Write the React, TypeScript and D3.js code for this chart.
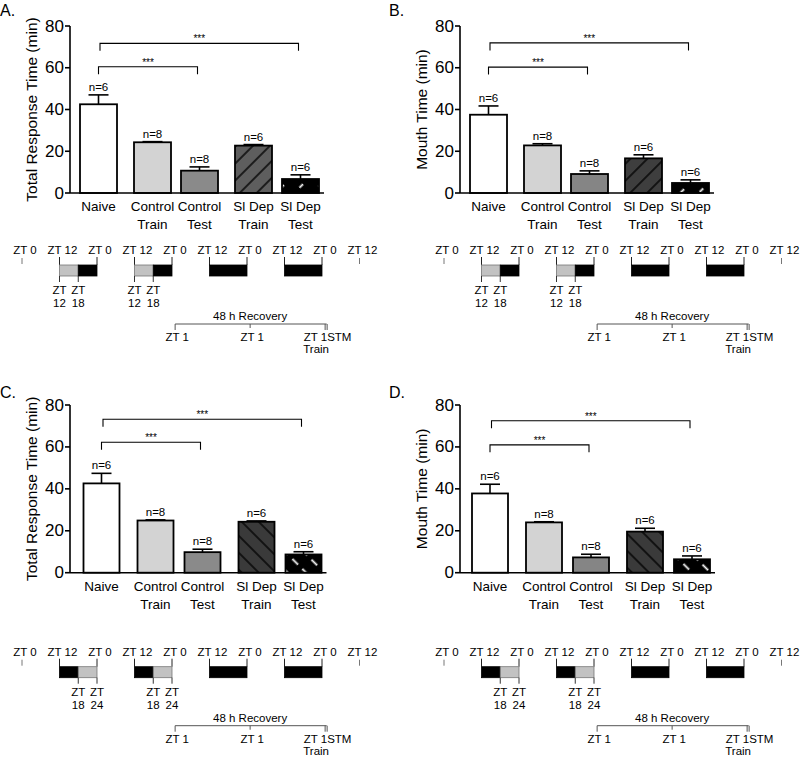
import React from "react";
import * as d3 from "d3";

// ---------- data ----------
const categories = ["Naive", "Control|Train", "Control|Test", "Sl Dep|Train", "Sl Dep|Test"];
const nLabels = ["n=6", "n=8", "n=8", "n=6", "n=6"];
const groupOf = [0, 1, 1, 2, 2];
const yTicks = [0, 20, 40, 60, 80];

const meanA = [42.5, 24.3, 10.7, 22.7, 6.7];
const semA = [4.5, 0.3, 1.8, 0.5, 2.0];
const meanB = [37.5, 22.8, 9.1, 16.6, 4.8];
const semB = [4.2, 0.8, 1.5, 1.7, 1.5];
const meanC = [42.6, 24.9, 9.8, 24.3, 8.7];
const semC = [4.8, 0.3, 1.4, 0.4, 1.3];
const meanD = [37.8, 24.0, 7.3, 19.6, 6.4];
const semD = [4.4, 0.3, 1.5, 1.6, 1.6];

const sigPairs = [[0, 2], [0, 4]];
const sigLabels = ["***", "***"];
const sigA = [60.5, 71.7];
const sigB = [60.3, 71.9];
const sigC = [62.2, 73.2];
const sigD = [61.0, 72.5];

// timeline (hours)
const ztHours = [0, 12, 24, 36, 48, 60, 72, 84, 96, 108];
const ztLabels = ["ZT 0", "ZT 12", "ZT 0", "ZT 12", "ZT 0", "ZT 12", "ZT 0", "ZT 12", "ZT 0", "ZT 12"];
const segStart = [12, 18, 36, 42, 60, 84];
const segEnd = [18, 24, 42, 48, 72, 96];
const segShadeTop = ["light", "dark", "light", "dark", "dark", "dark"];
const segShadeBottom = ["dark", "light", "dark", "light", "dark", "dark"];
const markerHoursTop = [12, 18, 36, 42];
const markerLabelsTop = ["12", "18", "12", "18"];
const markerHoursBottom = [18, 24, 42, 48];
const markerLabelsBottom = ["18", "24", "18", "24"];
const recoveryHours = [49, 73, 97];
const recoveryLabels = ["ZT 1", "ZT 1", "ZT 1"];

const FONT = "'Liberation Sans', Arial, Helvetica, sans-serif";

type PanelCfg = {
  id: string;
  letter: string;
  letterX: number;
  letterY: number;
  title: string;
  mean: number[];
  sem: number[];
  sig: number[];
  axisX: number;
  y0: number;
  y80: number;
  firstCenter: number;
  barW: number;
  trainFill: string;
  testFill: string;
  hatchRot: number;
  dash: string;
  tlX0: number;
  tlRow: number;
  shades: string[];
  markerHours: number[];
  markerLabels: string[];
};

const panels: PanelCfg[] = [
  { id: "A", letter: "A.", letterX: 0, letterY: 16, title: "Total Response Time (min)", mean: meanA, sem: semA, sig: sigA,
    axisX: 70, y0: 193, y80: 26, firstCenter: 98.5, barW: 37, trainFill: "#5e5e5e", testFill: "#8a8a8a", hatchRot: 45, dash: "5 9",
    tlX0: 22, tlRow: 250, shades: segShadeTop, markerHours: markerHoursTop, markerLabels: markerLabelsTop },
  { id: "B", letter: "B.", letterX: 389, letterY: 16, title: "Mouth Time (min)", mean: meanB, sem: semB, sig: sigB,
    axisX: 460, y0: 193, y80: 26, firstCenter: 488.5, barW: 37, trainFill: "#3e3e3e", testFill: "#858585", hatchRot: 45, dash: "5 9",
    tlX0: 444, tlRow: 250, shades: segShadeTop, markerHours: markerHoursTop, markerLabels: markerLabelsTop },
  { id: "C", letter: "C.", letterX: 0, letterY: 398, title: "Total Response Time (min)", mean: meanC, sem: semC, sig: sigC,
    axisX: 70, y0: 572.7, y80: 405, firstCenter: 101.5, barW: 36, trainFill: "#3a3a3a", testFill: "#8a8a8a", hatchRot: -45, dash: "8 6",
    tlX0: 22, tlRow: 651.7, shades: segShadeBottom, markerHours: markerHoursBottom, markerLabels: markerLabelsBottom },
  { id: "D", letter: "D.", letterX: 389, letterY: 398, title: "Mouth Time (min)", mean: meanD, sem: semD, sig: sigD,
    axisX: 460, y0: 572.7, y80: 405, firstCenter: 490, barW: 36, trainFill: "#3a3a3a", testFill: "#858585", hatchRot: -45, dash: "8 6",
    tlX0: 444, tlRow: 651.7, shades: segShadeBottom, markerHours: markerHoursBottom, markerLabels: markerLabelsBottom },
];

const STEP = 47;
const GROUP_GAP = 7;

function BarPanel({ p }: { p: PanelCfg }) {
  const y = d3.scaleLinear().domain([0, 80]).range([p.y0, p.y80]);
  const slot = d3.scaleLinear().domain([0, 1]).range([p.firstCenter, p.firstCenter + STEP]);
  const cx = (i: number) => slot(i) + groupOf[i] * GROUP_GAP;
  const axisEnd = cx(4) + p.barW / 2 + 5;
  const fills = ["#ffffff", "#d3d3d3", p.testFill, `url(#hatch${p.id})`, `url(#white${p.id})`];
  const titleY = (p.y0 + p.y80) / 2;
  return (
    <g>
      <defs>
        <pattern id={`hatch${p.id}`} patternUnits="userSpaceOnUse" width={12} height={12} patternTransform={`rotate(${p.hatchRot})`}>
          <rect width={12} height={12} fill={p.trainFill} />
          <line x1={6} y1={0} x2={6} y2={12} stroke="#000" strokeWidth={1.4} />
        </pattern>
        <pattern id={`white${p.id}`} patternUnits="userSpaceOnUse" width={13} height={14} patternTransform={`rotate(${p.hatchRot})`}>
          <rect width={13} height={14} fill="#000" />
          <line x1={6.5} y1={0} x2={6.5} y2={14} stroke="#fff" strokeWidth={1.8} strokeDasharray={p.dash} />
        </pattern>
      </defs>
      <text x={p.letterX} y={p.letterY} fontSize={16} fontFamily={FONT}>{p.letter}</text>
      <text transform={`translate(${p.axisX - 37},${titleY}) rotate(-90)`} textAnchor="middle" dominantBaseline="middle" fontSize={15.5} fontFamily={FONT}>{p.title}</text>
      {/* bars */}
      {p.mean.map((v, i) => {
        const top = y(v);
        const err = y(v + p.sem[i]);
        const c = cx(i);
        return (
          <g key={i}>
            <line x1={c} x2={c} y1={top} y2={err} stroke="#000" strokeWidth={1.6} />
            <line x1={c - 10} x2={c + 10} y1={err} y2={err} stroke="#000" strokeWidth={1.6} />
            <rect x={c - p.barW / 2} y={top} width={p.barW} height={p.y0 - top} fill={fills[i]} stroke="#000" strokeWidth={1.8} />
            <text x={c} y={err - 4} textAnchor="middle" fontSize={11.5} fontFamily={FONT}>{nLabels[i]}</text>
            {categories[i].split("|").map((s, k) => (
              <text key={k} x={c} y={p.y0 + 18 + k * 18} textAnchor="middle" fontSize={13.5} fontFamily={FONT}>{s}</text>
            ))}
          </g>
        );
      })}
      {/* axes */}
      <line x1={p.axisX} x2={p.axisX} y1={y(80)} y2={p.y0} stroke="#000" strokeWidth={1.6} />
      <line x1={p.axisX} x2={axisEnd} y1={p.y0} y2={p.y0} stroke="#000" strokeWidth={1.6} />
      {yTicks.map((t) => (
        <g key={t}>
          <line x1={p.axisX - 5} x2={p.axisX} y1={y(t)} y2={y(t)} stroke="#000" strokeWidth={1.6} />
          <text x={p.axisX - 6} y={y(t)} textAnchor="end" dominantBaseline="central" fontSize={17} fontFamily={FONT}>{t}</text>
        </g>
      ))}
      {/* significance brackets */}
      {sigPairs.map(([a, b], k) => {
        const yy = y(p.sig[k]);
        const x1 = cx(a) + k * 1.5;
        const x2 = cx(b) - 2;
        return (
          <g key={k}>
            <path d={`M${x1},${yy + 7.5}V${yy}H${x2}V${yy + 7.5}`} fill="none" stroke="#000" strokeWidth={1.1} />
            <text x={(x1 + x2) / 2} y={yy - 1} textAnchor="middle" fontSize={10} fontFamily={FONT}>{sigLabels[k]}</text>
          </g>
        );
      })}
    </g>
  );
}

function Timeline({ p }: { p: PanelCfg }) {
  const t = d3.scaleLinear().domain([0, 108]).range([p.tlX0, p.tlX0 + 337.5]);
  const row = p.tlRow;
  const boxTop = row + 15;
  const boxBot = row + 26;
  const recY = row + 74;
  const fs = 11.5;
  return (
    <g fontFamily={FONT} fontSize={fs}>
      {ztHours.map((h, i) => {
        const isolated = i === 0 || i === ztHours.length - 1;
        return (
          <g key={i}>
            <text x={t(h) + 3} y={row + 4} textAnchor="middle">{ztLabels[i]}</text>
            <line x1={t(h)} x2={t(h)} y1={isolated ? row + 8 : row + 7} y2={isolated ? row + 14 : boxTop} stroke={isolated ? "#777" : "#222"} strokeWidth={1} />
          </g>
        );
      })}
      {segStart.map((s, i) => (
        <rect key={i} x={t(s)} y={boxTop} width={t(segEnd[i]) - t(s)} height={boxBot - boxTop}
          fill={p.shades[i] === "dark" ? "#000" : "#c2c2c2"} stroke={p.shades[i] === "dark" ? "#000" : "#777"} strokeWidth={0.8} />
      ))}
      {p.markerHours.map((h, i) => (
        <g key={i}>
          <line x1={t(h)} x2={t(h)} y1={boxBot} y2={boxBot + 6} stroke="#333" strokeWidth={1} />
          <text x={t(h)} y={boxBot + 18} textAnchor="middle">ZT</text>
          <text x={t(h)} y={boxBot + 31} textAnchor="middle">{p.markerLabels[i]}</text>
        </g>
      ))}
      {/* recovery */}
      <text x={t(73)} y={recY - 4} textAnchor="middle">48 h Recovery</text>
      <line x1={t(recoveryHours[0])} x2={t(recoveryHours[2]) + 1.5} y1={recY} y2={recY} stroke="#555" strokeWidth={1} />
      {recoveryHours.map((h, i) => (
        <g key={i}>
          <line x1={t(h)} x2={t(h)} y1={recY} y2={recY + (i === 1 ? 4 : 6)} stroke="#555" strokeWidth={1} />
          {i === 2 ? (
            <>
              <line x1={t(h) + 2} x2={t(h) + 2} y1={recY} y2={recY + 6} stroke="#555" strokeWidth={1} />
              <text x={t(h) + 2} y={recY + 17} textAnchor="end">{recoveryLabels[i]}</text>
              <text x={t(h) + 2} y={recY + 17} textAnchor="start">STM</text>
              <text x={t(h) - 9} y={recY + 29} textAnchor="middle">Train</text>
            </>
          ) : (
            <text x={t(h) + 2} y={recY + 17} textAnchor="middle">{recoveryLabels[i]}</text>
          )}
        </g>
      ))}
    </g>
  );
}

export default function App() {
  return (
    <svg width={800} height={758} style={{ position: "absolute", left: 0, top: 0, background: "#fff" }}>
      <rect width={800} height={758} fill="#fff" />
      {panels.map((p) => (
        <g key={p.id}>
          <BarPanel p={p} />
          <Timeline p={p} />
        </g>
      ))}
    </svg>
  );
}
